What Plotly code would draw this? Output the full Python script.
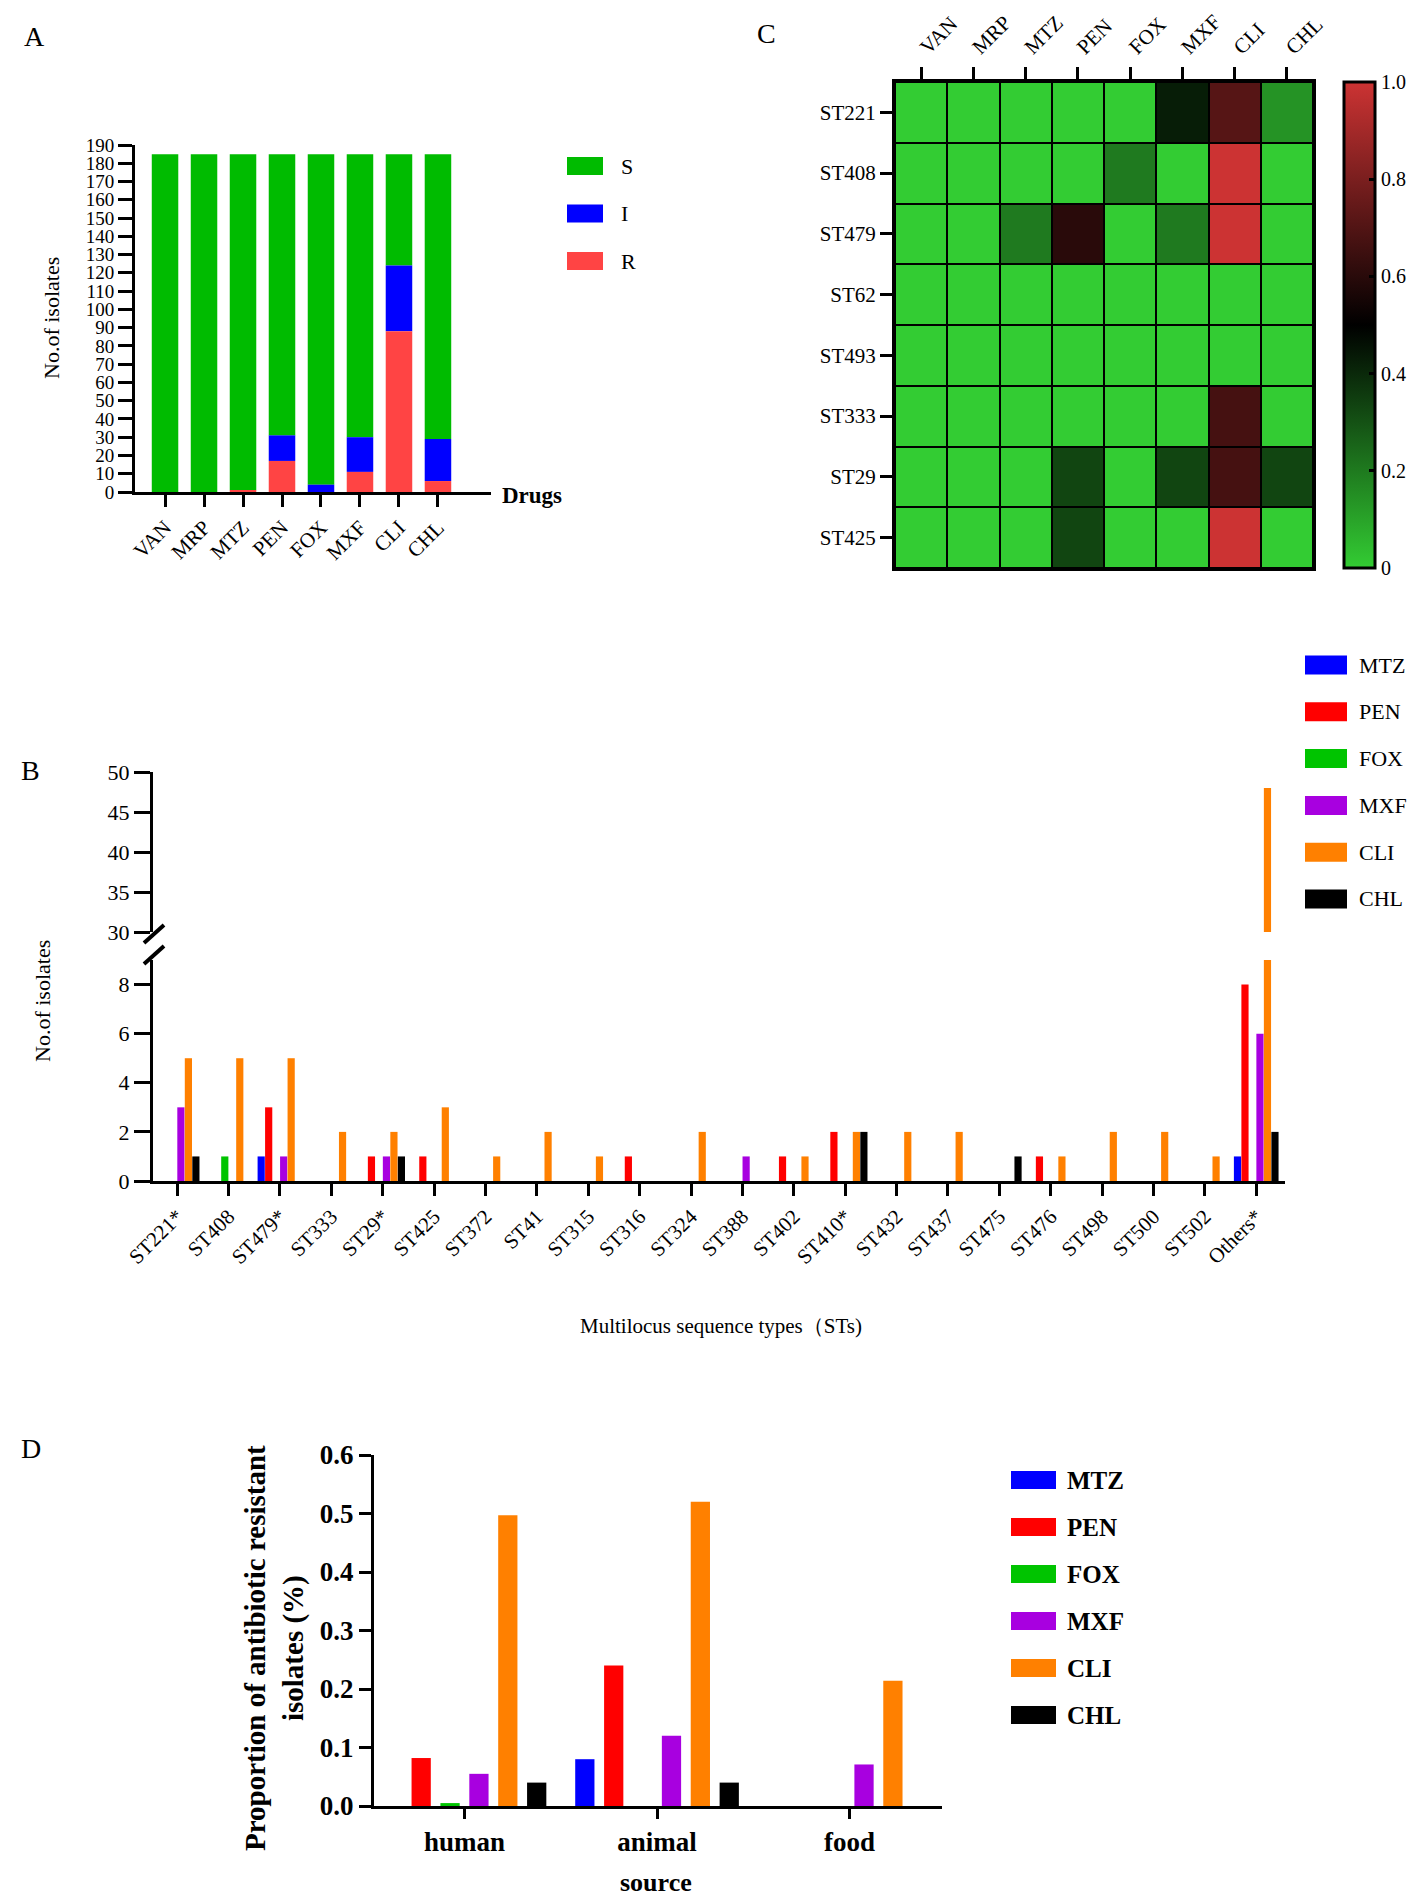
import plotly.graph_objects as go

W, H = 1418, 1895
SERIF = "Liberation Serif"

# ---- panel A : susceptibility per drug ----
drugs = ["VAN", "MRP", "MTZ", "PEN", "FOX", "MXF", "CLI", "CHL"]
a_R = [0, 0, 1, 17, 0, 11, 88, 6]
a_I = [0, 0, 0, 14, 4, 19, 36, 23]
a_S = [185, 185, 184, 154, 181, 155, 61, 156]
sir_names = ["S", "I", "R"]
sir_colors = ["#00BB00", "#0000FF", "#FF4444"]

# ---- panel C : resistance rate heatmap ----
hm_cols = ["VAN", "MRP", "MTZ", "PEN", "FOX", "MXF", "CLI", "CHL"]
hm_rows = ["ST221", "ST408", "ST479", "ST62", "ST493", "ST333", "ST29", "ST425"]
hm_z = [
    [0, 0, 0, 0, 0, 0.43, 0.71, 0.14],
    [0, 0, 0, 0, 0.2, 0, 1.0, 0],
    [0, 0, 0.2, 0.6, 0, 0.2, 1.0, 0],
    [0, 0, 0, 0, 0, 0, 0, 0],
    [0, 0, 0, 0, 0, 0, 0, 0],
    [0, 0, 0, 0, 0, 0, 0.67, 0],
    [0, 0, 0, 0.33, 0, 0.33, 0.67, 0.33],
    [0, 0, 0, 0.33, 0, 0, 1.0, 0],
]
cbar_ticks = [0, 0.2, 0.4, 0.6, 0.8, 1.0]
cbar_text = ["0", "0.2", "0.4", "0.6", "0.8", "1.0"]

# ---- panel B : resistant isolates per ST ----
st_types = ["ST221*", "ST408", "ST479*", "ST333", "ST29*", "ST425", "ST372", "ST41",
            "ST315", "ST316", "ST324", "ST388", "ST402", "ST410*", "ST432", "ST437",
            "ST475", "ST476", "ST498", "ST500", "ST502", "Others*"]
b_MTZ = [0, 0, 1, 0, 0, 0, 0, 0, 0, 0, 0, 0, 0, 0, 0, 0, 0, 0, 0, 0, 0, 1]
b_PEN = [0, 0, 3, 0, 1, 1, 0, 0, 0, 1, 0, 0, 1, 2, 0, 0, 0, 1, 0, 0, 0, 8]
b_FOX = [0, 1, 0, 0, 0, 0, 0, 0, 0, 0, 0, 0, 0, 0, 0, 0, 0, 0, 0, 0, 0, 0]
b_MXF = [3, 0, 1, 0, 1, 0, 0, 0, 0, 0, 0, 1, 0, 0, 0, 0, 0, 0, 0, 0, 0, 6]
b_CLI = [5, 5, 5, 2, 2, 3, 1, 2, 1, 0, 2, 0, 1, 2, 2, 2, 0, 1, 2, 2, 1, 48]
b_CHL = [1, 0, 0, 0, 1, 0, 0, 0, 0, 0, 0, 0, 0, 2, 0, 0, 1, 0, 0, 0, 0, 2]

# ---- panel D : proportion resistant by source ----
sources = ["human", "animal", "food"]
d_MTZ = [0, 0.08, 0]
d_PEN = [0.082, 0.24, 0]
d_FOX = [0.005, 0, 0]
d_MXF = [0.055, 0.12, 0.071]
d_CLI = [0.497, 0.52, 0.214]
d_CHL = [0.04, 0.04, 0]

res_names = ["MTZ", "PEN", "FOX", "MXF", "CLI", "CHL"]
res_colors = ["#0000FF", "#FF0000", "#00C400", "#A800E0", "#FF8000", "#000000"]


def px_x(p):
    return p / W


def px_y(p):
    return 1 - p / H


def dom_y(top, bottom):
    return [px_y(bottom), px_y(top)]


fig = go.Figure()

# panel A stacked bars (base from the data)
a_vals = [a_S, a_I, a_R]
a_bases = [[r + i for r, i in zip(a_R, a_I)], a_R, [0] * len(a_R)]
for name, vals, base, col in zip(sir_names, a_vals, a_bases, sir_colors):
    fig.add_trace(go.Bar(x=drugs, y=vals, base=base, name=name, width=0.68,
                         marker=dict(color=col, line=dict(width=0)),
                         xaxis="x", yaxis="y", showlegend=False))

# panel C heatmap
fig.add_trace(go.Heatmap(
    z=hm_z, x=hm_cols, y=hm_rows, zmin=0, zmax=1, xgap=2, ygap=2,
    colorscale=[[0, "#33CC33"], [0.5, "#000000"], [1, "#CC3333"]],
    xaxis="x2", yaxis="y2", showscale=True,
    colorbar=dict(x=px_x(1336), xanchor="left", y=px_y(317), yanchor="middle",
                  len=(560 - 74) / H, lenmode="fraction", thickness=31,
                  outlinewidth=3, outlinecolor="black", xpad=0, ypad=0,
                  tickvals=cbar_ticks, ticktext=cbar_text,
                  ticks="inside", ticklen=7, tickwidth=3, tickcolor="black",
                  tickfont=dict(family=SERIF, size=20, color="black")),
))

# panel B grouped bars, lower and upper segment of broken axis
b_series = [b_MTZ, b_PEN, b_FOX, b_MXF, b_CLI, b_CHL]
b_group = 0.875
b_slot = b_group / 6
for i, (name, vals, col) in enumerate(zip(res_names, b_series, res_colors)):
    for ya in ["y3", "y4"]:
        fig.add_trace(go.Bar(x=st_types, y=vals, name=name, width=b_slot * 0.96,
                             offset=-b_group / 2 + i * b_slot + b_slot * 0.02,
                             marker=dict(color=col, line=dict(width=0)),
                             xaxis="x3", yaxis=ya, showlegend=False))

# panel D grouped bars
d_series = [d_MTZ, d_PEN, d_FOX, d_MXF, d_CLI, d_CHL]
d_group = 0.9
d_slot = d_group / 6
d_w = 0.1
for i, (name, vals, col) in enumerate(zip(res_names, d_series, res_colors)):
    fig.add_trace(go.Bar(x=sources, y=vals, name=name, width=d_w,
                         offset=-d_group / 2 + i * d_slot + (d_slot - d_w) / 2,
                         marker=dict(color=col, line=dict(width=0)),
                         xaxis="x5", yaxis="y5", showlegend=False))

axis_common = dict(showgrid=False, zeroline=False, showline=True, linewidth=3,
                   linecolor="black", ticks="outside", tickwidth=3, ticklen=12,
                   tickcolor="black", automargin=False)

fig.update_layout(
    width=W, height=H, margin=dict(l=0, r=0, t=0, b=0),
    template="none", paper_bgcolor="white", plot_bgcolor="rgba(0,0,0,0)",
    barmode="overlay", font=dict(family=SERIF, color="black"), showlegend=False,
    # A
    xaxis=dict(axis_common, domain=[px_x(127), px_x(483)], anchor="y",
               range=[-0.77, 8.36], tickangle=-45,
               tickfont=dict(family=SERIF, size=21)),
    yaxis=dict(axis_common, domain=dom_y(137, 484), anchor="x", range=[0, 190],
               tickvals=list(range(0, 191, 10)), ticklen=14,
               tickfont=dict(family=SERIF, size=19)),
    # C
    xaxis2=dict(axis_common, domain=[px_x(887), px_x(1305)], anchor="y2",
                side="top", mirror=True, tickangle=-45,
                tickfont=dict(family=SERIF, size=21)),
    yaxis2=dict(axis_common, domain=dom_y(74, 560), anchor="x2", mirror=True,
                autorange="reversed", tickfont=dict(family=SERIF, size=21)),
    # B
    xaxis3=dict(axis_common, domain=[px_x(145), px_x(1277)], anchor="y3",
                range=[-0.47, 21.56], tickangle=-45,
                tickfont=dict(family=SERIF, size=21)),
    yaxis3=dict(axis_common, domain=dom_y(952, 1173), anchor="x3", range=[0, 9],
                tickvals=[0, 2, 4, 6, 8], ticklen=16,
                tickfont=dict(family=SERIF, size=22)),
    yaxis4=dict(axis_common, domain=dom_y(764, 924), anchor="x3", range=[30, 50],
                tickvals=[30, 35, 40, 45, 50], ticklen=16,
                tickfont=dict(family=SERIF, size=22)),
    # D
    xaxis5=dict(axis_common, domain=[px_x(366), px_x(934)], anchor="y5",
                range=[-0.47, 2.48], ticklen=10,
                tickfont=dict(family=SERIF, size=27, weight="bold")),
    yaxis5=dict(axis_common, domain=dom_y(1447, 1798), anchor="x5", range=[0, 0.6],
                tickvals=[0, 0.1, 0.2, 0.3, 0.4, 0.5, 0.6], tickformat=".1f",
                tickfont=dict(family=SERIF, size=27, weight="bold")),
)

# black background behind the heatmap cells -> cell borders
fig.add_shape(type="rect", xref="x2 domain", yref="y2 domain", x0=0, x1=1, y0=0, y1=1,
              fillcolor="black", line=dict(width=0), layer="below")

# axis break marks on panel B
for y0 in [935, 956]:
    fig.add_shape(type="line", xref="paper", yref="paper",
                  x0=px_x(136), y0=px_y(y0), x1=px_x(156), y1=px_y(y0 - 18),
                  line=dict(color="black", width=4))


def note(text, x, y, size, angle=0, bold=False, xanchor="center", yanchor="middle"):
    fig.add_annotation(text=text, x=px_x(x), y=px_y(y), xref="paper", yref="paper",
                       showarrow=False, textangle=angle, xanchor=xanchor, yanchor=yanchor,
                       borderpad=0,
                       font=dict(family=SERIF, size=size, color="black",
                                 weight="bold" if bold else "normal"))


def legend_block(names, colors, x0, x1, y_first, pitch, h, text_x, size, bold=False):
    for k, (name, col) in enumerate(zip(names, colors)):
        yc = y_first + k * pitch
        fig.add_shape(type="rect", xref="paper", yref="paper",
                      x0=px_x(x0), x1=px_x(x1), y0=px_y(yc - h / 2), y1=px_y(yc + h / 2),
                      fillcolor=col, line=dict(width=0))
        note(name, text_x, yc, size, bold=bold, xanchor="left")


legend_block(sir_names, sir_colors, 559, 595, 158, 47.5, 18, 612, 22)
legend_block(res_names, res_colors, 1297, 1339, 657, 46.8, 19, 1350, 22)
legend_block(res_names, res_colors, 1003, 1048, 1472, 47, 18, 1058, 25, bold=True)

note("A", 15, 28, 28, xanchor="left")
note("C", 748, 26, 28, xanchor="left")
note("B", 12, 762, 28, xanchor="left")
note("D", 12, 1440, 28, xanchor="left")
note("No.of isolates", 44, 310, 22, angle=-90)
note("Drugs", 493, 487, 23, bold=True, xanchor="left")
note("No.of isolates", 34, 993, 22, angle=-90)
note("Multilocus sequence types（STs)", 713, 1318, 21)
note("Proportion of antibiotic resistant<br>isolates (%)", 266, 1640, 29, angle=-90, bold=True)
note("source", 648, 1874, 26, bold=True)

fig.write_html("out.html")
